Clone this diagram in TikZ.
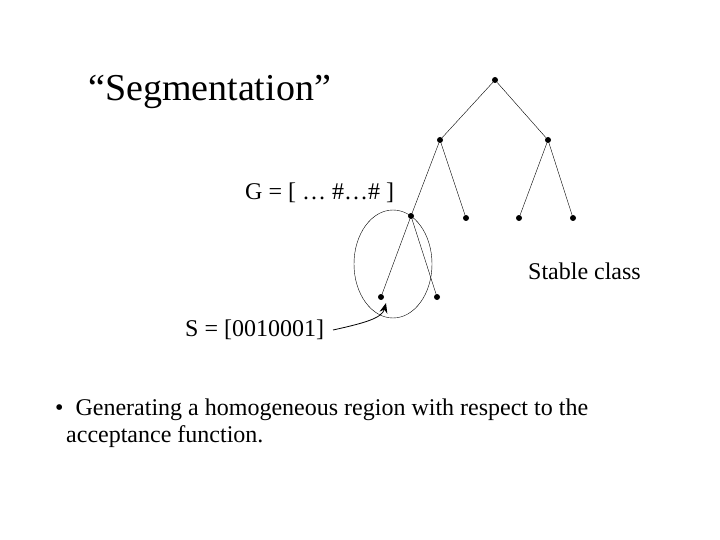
\documentclass[tikz,border=0pt]{standalone}
\usepackage{fontspec}
\usetikzlibrary{arrows.meta}
\setmainfont{Liberation Serif}
\begin{document}
\begin{tikzpicture}[x=1pt,y=-1pt,
  dot/.style={circle,fill=black,inner sep=0pt,minimum size=6pt},
  txt/.style={inner sep=0pt,font=\fontsize{24}{28}\selectfont}]
\useasboundingbox (0,0) rectangle (720,540);
\node[inner sep=0pt,anchor=west,font=\fontsize{38}{42}\selectfont] (title) at (88,92) {“Segmentation”};
\node[dot] (r) at (495,80) {};
\node[dot] (a) at (440,140) {};
\node[dot] (b) at (548,140) {};
\node[dot] (c) at (411,216) {};
\node[dot] (d) at (466,218) {};
\node[dot] (e) at (519,218) {};
\node[dot] (f) at (573,218) {};
\node[dot] (g) at (381,297) {};
\node[dot] (h) at (437,297) {};
\draw (r)--(a) (r)--(b) (a)--(c) (a)--(d) (b)--(e) (b)--(f) (c)--(g) (c)--(h);
\draw (393,264) ellipse [x radius=39, y radius=54];
\node[txt,anchor=west] (G) at (245,193) {G = [ … \#…\# ]};
\node[txt,anchor=east] (sc) at (641,271) {Stable class};
\node[txt,anchor=west] (S) at (185,330) {S = [0010001]};
\coordinate (s0) at (333,330);
\coordinate (s1) at (386,303);
\draw[thick,-{Stealth[length=10pt,width=8pt]}] (s0) .. controls (365,323) and (382,318) .. (s1);
\node[txt,anchor=west] (b1) at (55,410) {•\ \ Generating a homogeneous region with respect to the};
\node[txt,anchor=west] (b2) at (66,437) {acceptance function.};
\end{tikzpicture}
\end{document}
